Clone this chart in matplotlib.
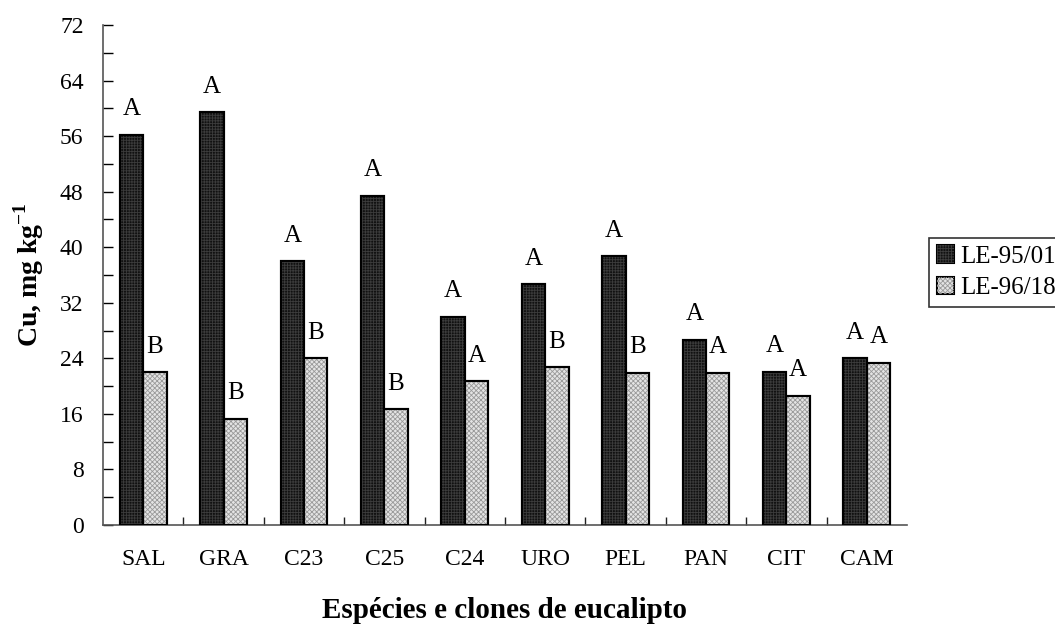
import matplotlib
matplotlib.use("Agg")
import matplotlib.pyplot as plt
import numpy as np
from matplotlib.legend_handler import HandlerTuple
from matplotlib.ticker import MultipleLocator

plt.rcParams["font.family"] = ["Liberation Serif", "DejaVu Serif"]
plt.rcParams["mathtext.fontset"] = "custom"
plt.rcParams["mathtext.rm"] = "Liberation Serif"
plt.rcParams["mathtext.bf"] = "Liberation Serif:bold"
plt.rcParams["hatch.linewidth"] = 0.6

# Cu concentration by eucalyptus species / clone for the two soils
categories = ["SAL", "GRA", "C23", "C25", "C24", "URO", "PEL", "PAN", "CIT", "CAM"]
series_names = ["LE-95/01", "LE-96/18"]
le_95_01 = [56.2, 59.4, 38.0, 47.4, 30.0, 34.7, 38.7, 26.7, 22.1, 24.0]
le_96_18 = [22.0, 15.3, 24.0, 16.7, 20.7, 22.7, 21.9, 21.9, 18.6, 23.4]
letters_95 = ["A", "A", "A", "A", "A", "A", "A", "A", "A", "A"]
letters_96 = ["B", "B", "B", "B", "A", "B", "B", "A", "A", "A"]

fig = plt.figure(figsize=(10.55, 6.26), dpi=100)
ax = fig.add_axes([103 / 1055, 1 - 525 / 626, (907 - 103) / 1055, 500 / 626])

x = np.arange(len(categories)) + 0.5
w = 0.29

styles = [
    dict(face="#111111", hatch="++++++", hcolor="#3c3c3c"),
    dict(face="#e4e4e4", hatch="xxxxxxx", hcolor="#9a9a9a"),
]
handles = []
for i, (vals, letters) in enumerate([(le_95_01, letters_95), (le_96_18, letters_96)]):
    st = styles[i]
    pos = x - w / 2 if i == 0 else x + w / 2
    base = ax.bar(pos, vals, width=w, color=st["face"], edgecolor="black",
                  linewidth=1.5, zorder=2)
    over = ax.bar(pos, vals, width=w, color="none", edgecolor=st["hcolor"],
                  hatch=st["hatch"], linewidth=0, zorder=3)
    ax.bar(pos, vals, width=w, color="none", edgecolor="black",
           linewidth=1.5, zorder=4)
    handles.append((base[0], over[0]))
    for xp, v, lt in zip(pos, vals, letters):
        ax.annotate(lt, (xp, v), xytext=(0, 14), textcoords="offset points",
                    ha="center", va="baseline", fontsize=18)

ax.set_xlim(0, len(categories))
ax.set_ylim(0, 72)
ax.yaxis.set_major_locator(MultipleLocator(8))
ax.yaxis.set_minor_locator(MultipleLocator(4))
ax.set_xticks(np.arange(1, len(categories)))
ax.set_xticklabels([])
ax.set_xticks(x, minor=True)
ax.set_xticklabels(categories, minor=True, fontsize=17)
ax.tick_params(axis="x", which="minor", length=0, pad=17)
ax.tick_params(axis="x", which="major", direction="in", length=6, width=1, colors="#222222")
ax.tick_params(axis="y", which="both", direction="in", length=7, width=1,
               labelsize=17, pad=14)
for s in ["top", "right"]:
    ax.spines[s].set_visible(False)
for s in ["left", "bottom"]:
    ax.spines[s].set_color("#555555")
    ax.spines[s].set_linewidth(1.2)

ax.set_xlabel("Espécies e clones de eucalipto", fontsize=21, fontweight="bold",
              labelpad=20)
ax.set_ylabel(r"Cu, mg kg$^{\mathbf{-1}}$", fontsize=20, fontweight="bold",
              labelpad=10)

leg = fig.legend(handles, series_names, handler_map={tuple: HandlerTuple(ndivide=1, pad=0)},
                 loc="upper left", bbox_to_anchor=(929 / 1055, 1 - 238 / 626),
                 borderaxespad=0, frameon=True, fancybox=False, fontsize=18,
                 handlelength=0.7, handleheight=0.7, handletextpad=0.25,
                 borderpad=0.3, labelspacing=0.35)
leg.get_frame().set_edgecolor("black")
leg.get_frame().set_linewidth(1.2)

fig.savefig("out.png", dpi=100)
